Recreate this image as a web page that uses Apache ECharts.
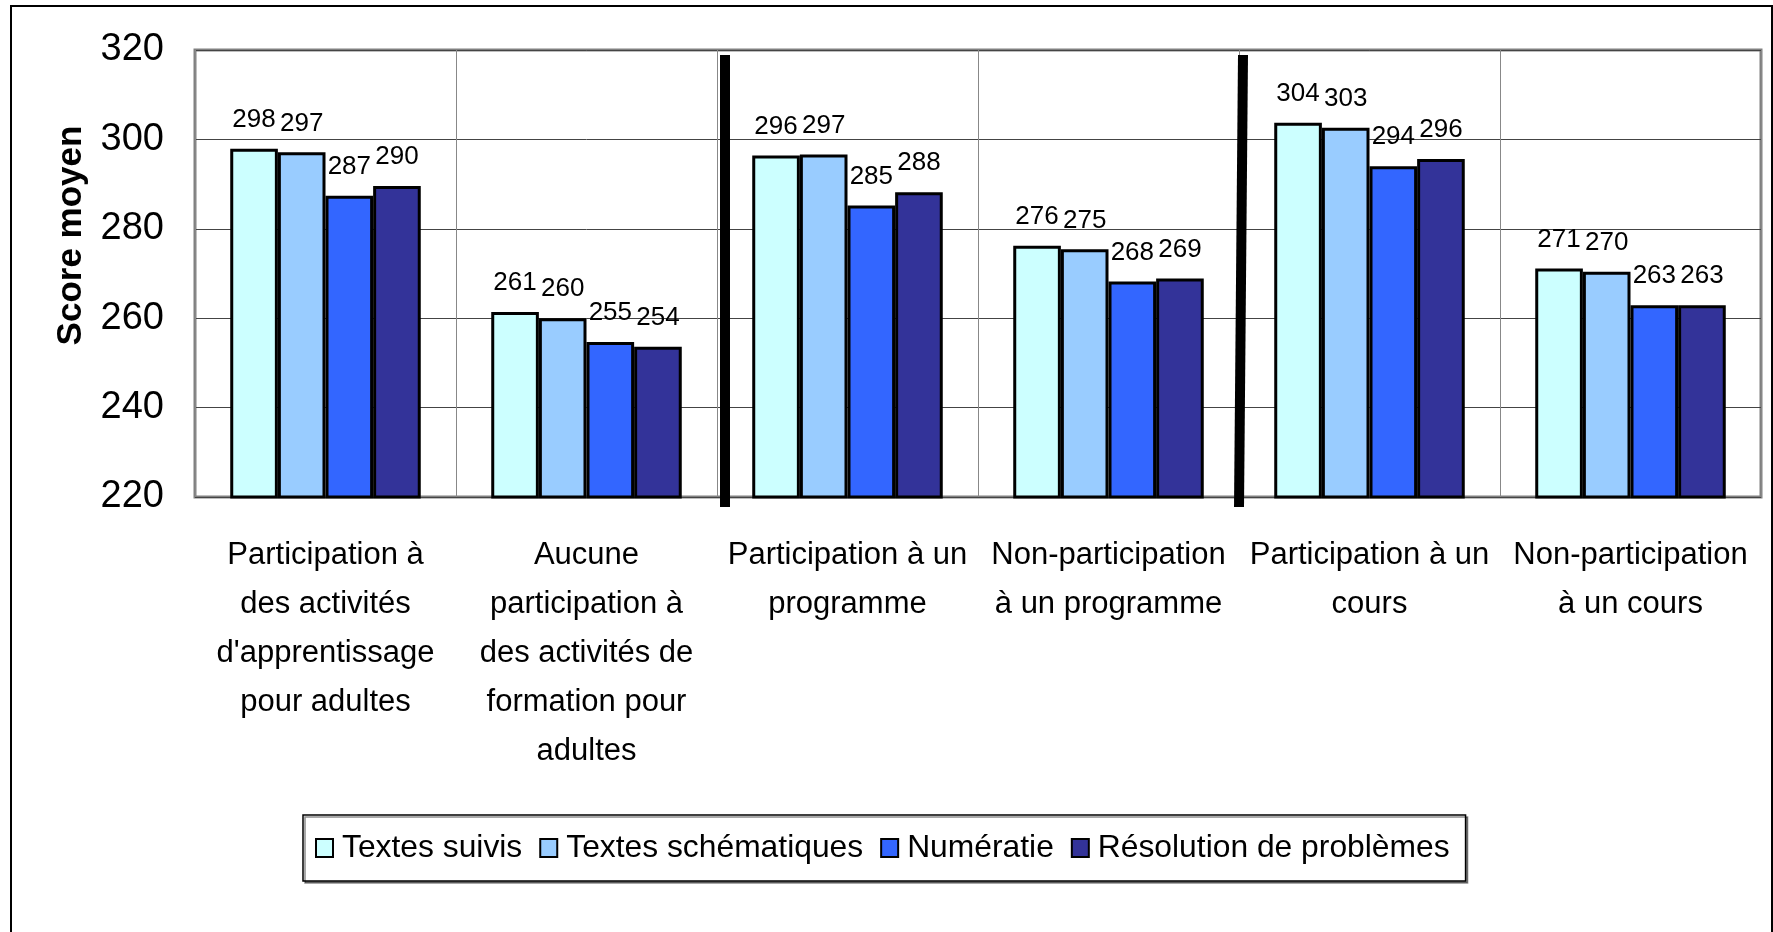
<!DOCTYPE html>
<html>
<head>
<meta charset="utf-8">
<script src="https://cdn.jsdelivr.net/npm/echarts@6/dist/echarts.min.js"></script>
<style>
  html, body { margin: 0; padding: 0; background: #fff; }
  #chart { width: 1773px; height: 932px; }
</style>
</head>
<body>
<div id="chart"></div>
<script>
  // categories (x axis)
  var categories = [
    "Participation à\ndes activités\nd'apprentissage\npour adultes",
    "Aucune\nparticipation à\ndes activités de\nformation pour\nadultes",
    "Participation à un\nprogramme",
    "Non-participation\nà un programme",
    "Participation à un\ncours",
    "Non-participation\nà un cours"
  ];

  // scores per domain (labels are rounded)
  var textesSuivis = [297.9, 261.4, 296.4, 276.2, 303.7, 271.1];
  var textesSchematiques = [297.1, 260.0, 296.6, 275.4, 302.6, 270.4];
  var numeratie = [287.4, 254.7, 285.2, 268.2, 294.0, 262.9];
  var resolution = [289.6, 253.6, 288.2, 268.9, 295.6, 262.9];

  var seriesNames = ['Textes suivis', 'Textes schématiques', 'Numératie', 'Résolution de problèmes'];
  var seriesColors = ['#CCFFFF', '#99CCFF', '#3366FF', '#333399'];

  // y axis range
  var yMin = 220, yMax = 320, yStep = 20;

  var font = 'Liberation Sans, Arial, sans-serif';
  var myChart = echarts.init(document.getElementById('chart'));

  function barSeries(name, data, color) {
    return {
      name: name,
      type: 'bar',
      data: data,
      barGap: '0%',
      barCategoryGap: '27%',
      itemStyle: { color: color, borderColor: '#000', borderWidth: 3 },
      label: {
        show: true,
        position: 'top',
        distance: 16,
        color: '#000',
        fontFamily: font,
        fontSize: 26,
        formatter: function (p) { return Math.round(p.value); }
      }
    };
  }

  var option = {
    backgroundColor: '#fff',
    animation: false,
    grid: {
      left: 195, top: 50, right: 12, bottom: 435,
      show: true,
      borderColor: '#808080',
      borderWidth: 3,
      backgroundColor: '#fff'
    },
    legend: {
      left: 303, top: 815,
      itemWidth: 17, itemHeight: 18, itemGap: 17,
      padding: [17, 16, 17, 12],
      borderColor: '#000', borderWidth: 1.5,
      backgroundColor: '#fff',
      shadowColor: 'rgba(0,0,0,0.45)', shadowOffsetX: 2, shadowOffsetY: 2, shadowBlur: 0,
      icon: 'rect',
      itemStyle: { borderWidth: 2, borderColor: '#000' },
      textStyle: { fontFamily: font, fontSize: 31.8, color: '#000', padding: [0, 0, 0, 4] },
      data: seriesNames
    },
    xAxis: {
      type: 'category',
      data: categories,
      axisLine: { show: false },
      axisTick: { show: false },
      splitLine: { show: true, lineStyle: { color: '#888', width: 1 } },
      axisLabel: {
        interval: 0,
        margin: 34,
        color: '#000',
        fontFamily: font,
        fontSize: 31,
        lineHeight: 49
      }
    },
    yAxis: {
      type: 'value',
      min: yMin, max: yMax, interval: yStep,
      name: 'Score moyen',
      nameLocation: 'middle',
      nameRotate: 90,
      nameGap: 106,
      nameTextStyle: {
        fontFamily: font, fontSize: 35, fontWeight: 'bold', color: '#000',
        padding: [0, 0, 0, 76]
      },
      axisLine: { show: false },
      axisTick: { show: false },
      axisLabel: { margin: 31, color: '#000', fontFamily: font, fontSize: 38 },
      splitLine: { lineStyle: { color: '#444', width: 1 } }
    },
    series: [
      barSeries(seriesNames[0], textesSuivis, seriesColors[0]),
      barSeries(seriesNames[1], textesSchematiques, seriesColors[1]),
      barSeries(seriesNames[2], numeratie, seriesColors[2]),
      barSeries(seriesNames[3], resolution, seriesColors[3])
    ]
  };
  myChart.setOption(option);

  // thick separators between the three groups + outer frame
  var c1 = myChart.convertToPixel({ xAxisIndex: 0 }, 1);
  var c2 = myChart.convertToPixel({ xAxisIndex: 0 }, 2);
  var c3 = myChart.convertToPixel({ xAxisIndex: 0 }, 3);
  var c4 = myChart.convertToPixel({ xAxisIndex: 0 }, 4);
  var yTop = myChart.convertToPixel({ yAxisIndex: 0 }, yMax);
  var yBot = myChart.convertToPixel({ yAxisIndex: 0 }, yMin);
  var sep1 = (c1 + c2) / 2 + 8;
  var sep2 = (c3 + c4) / 2 + 2;

  myChart.setOption({
    graphic: [
      {
        type: 'rect', silent: true, z: 0,
        shape: { x: 11, y: 6, width: 1761, height: 1000 },
        style: { fill: null, stroke: '#000', lineWidth: 2 }
      },
      {
        type: 'line', silent: true, z: 100,
        shape: { x1: sep1, y1: yTop + 5, x2: sep1, y2: yBot + 10 },
        style: { stroke: '#000', lineWidth: 10 }
      },
      {
        type: 'line', silent: true, z: 100,
        shape: { x1: sep2 + 2, y1: yTop + 5, x2: sep2 - 2, y2: yBot + 10 },
        style: { stroke: '#000', lineWidth: 10 }
      }
    ]
  });
</script>
</body>
</html>
